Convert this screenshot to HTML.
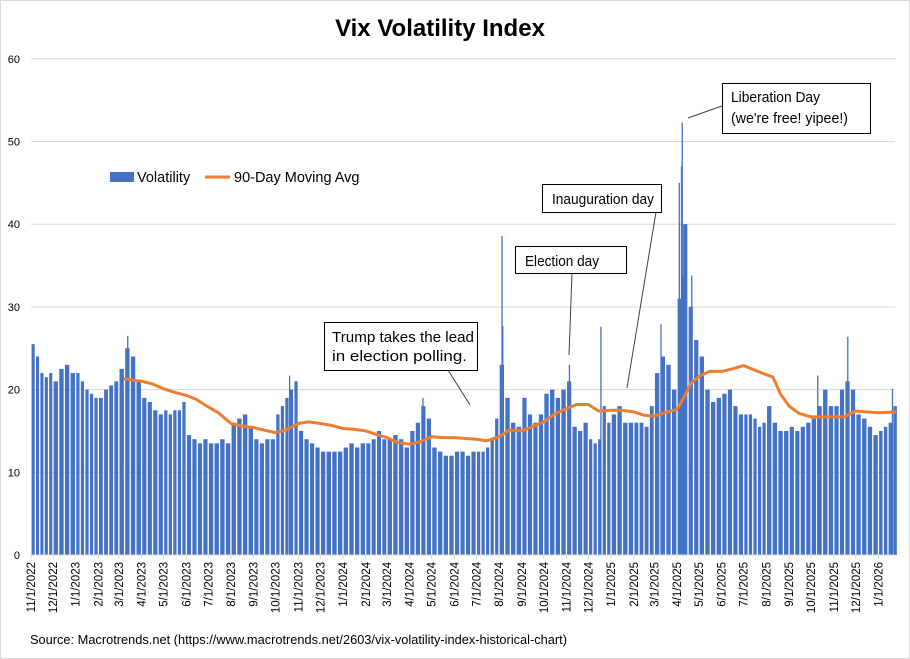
<!DOCTYPE html>
<html><head><meta charset="utf-8"><style>
body{margin:0;background:#fff;}
svg{display:block;font-family:"Liberation Sans",Calibri,sans-serif;}
</style></head><body>
<svg id="chart" width="910" height="659" viewBox="0 0 910 659">
<rect x="0.5" y="0.5" width="909" height="658" fill="#fff" stroke="#d9d9d9"/>
<text x="440" y="36" text-anchor="middle" font-size="24" font-weight="bold" fill="#000">Vix Volatility Index</text>
<g id="grid"></g>
<g id="yaxis"></g>
<g id="bars"></g>
<g id="ma"></g>
<g id="xaxis"></g>
<g>
<rect x="110" y="172" width="24" height="10" fill="#4472c4"/>
<text x="137" y="182" font-size="14.5" fill="#000">Volatility</text>
<line x1="205" y1="177" x2="230" y2="177" stroke="#ed7d31" stroke-width="3"/>
<text x="234" y="182" font-size="14.5" fill="#000">90-Day Moving Avg</text>
</g>
<g font-size="14.5" fill="#000">
<line x1="448" y1="370" x2="470" y2="405" stroke="#404040"/>
<rect x="324.5" y="322.5" width="153" height="48" fill="#fff" stroke="#000"/>
<text x="332" y="342" textLength="142" lengthAdjust="spacingAndGlyphs">Trump takes the lead</text>
<text x="332" y="361" textLength="135" lengthAdjust="spacingAndGlyphs">in election polling.</text>
<line x1="572" y1="273" x2="569" y2="355" stroke="#404040"/>
<rect x="515.5" y="246.5" width="111" height="27" fill="#fff" stroke="#000"/>
<text x="525" y="266" textLength="74" lengthAdjust="spacingAndGlyphs">Election day</text>
<line x1="656" y1="212" x2="627" y2="388" stroke="#404040"/>
<rect x="542.5" y="184.5" width="119" height="28" fill="#fff" stroke="#000"/>
<text x="552" y="204" textLength="102" lengthAdjust="spacingAndGlyphs">Inauguration day</text>
<line x1="722" y1="106" x2="688" y2="118" stroke="#404040"/>
<rect x="722.5" y="83.5" width="148" height="50" fill="#fff" stroke="#000"/>
<text x="731" y="102" textLength="89" lengthAdjust="spacingAndGlyphs">Liberation Day</text>
<text x="731" y="123" textLength="117" lengthAdjust="spacingAndGlyphs">(we're free! yipee!)</text>
</g>
<text x="30" y="644" font-size="12.5" fill="#000" textLength="537" lengthAdjust="spacingAndGlyphs">Source: Macrotrends.net (https://www.macrotrends.net/2603/vix-volatility-index-historical-chart)</text>
</svg>
<script>
// Month labels (start of each month), weekly values per month
const months = ["11/1/2022","12/1/2022","1/1/2023","2/1/2023","3/1/2023","4/1/2023","5/1/2023","6/1/2023","7/1/2023","8/1/2023","9/1/2023","10/1/2023","11/1/2023","12/1/2023","1/1/2024","2/1/2024","3/1/2024","4/1/2024","5/1/2024","6/1/2024","7/1/2024","8/1/2024","9/1/2024","10/1/2024","11/1/2024","12/1/2024","1/1/2025","2/1/2025","3/1/2025","4/1/2025","5/1/2025","6/1/2025","7/1/2025","8/1/2025","9/1/2025","10/1/2025","11/1/2025","12/1/2025","1/1/2026"];
const weeklyVol = [
[25.5,24,22,21.5,22],[21,22.5,23,22],[22,21,20,19.5,19],[19,20,20.5,21],[22.5,25,24,21],[19,18.5,17.5,17],
[17.5,17,17.5,17.5,18.5],[14.5,14,13.5,14],[13.5,13.5,14,13.5],[16,16.5,17,15.5],[14,13.5,14,14],[17,18,19,20,21],
[15,14,13.5,13],[12.5,12.5,12.5,12.5],[13,13.5,13,13.5],[13.5,14,15,14],[14,14.5,14,13],[15,16,18,16.5],
[13,12.5,12,12],[12.5,12.5,12,12.5],[12.5,12.5,13,14,16.5],[23,19,16,15.5],[19,17,16,17],[19.5,20,19,20],
[21,15.5,15,16],[14,13.5,14,18,16],[17,18,16,16],[16,16,15.5,18],[22,24,23,20],[31,40,30,26],
[24,20,18.5,19],[19.5,20,18,17],[17,17,16.5,15.5,16],[18,16,15,15],[15.5,15,15.5,16],[16.5,18,20,18],
[18,20,21,20],[17,16.5,15.5,14.5],[15,15.5,16,18]];
// Notable single-day spikes
const spikeDates = ["3/13/2023","10/20/2023","4/19/2024","8/5/2024","8/6/2024","11/5/2024","12/18/2024","3/10/2025","4/4/2025","4/7/2025","4/8/2025","4/9/2025","4/21/2025","10/10/2025","11/20/2025","1/20/2026"];
const spikeValues = [26.5,21.7,19.0,38.6,27.7,23.0,27.6,27.9,45.0,47.0,52.3,33.6,33.8,21.7,26.4,20.1];
// 90-day moving average points
const maDates = ["3/8/2023","4/1/2023","4/15/2023","5/1/2023","5/15/2023","6/1/2023","6/15/2023","7/1/2023","7/15/2023","8/1/2023","8/15/2023","9/1/2023","9/15/2023","10/1/2023","10/15/2023","11/1/2023","11/15/2023","12/1/2023","12/15/2023","1/1/2024","1/15/2024","2/1/2024","2/15/2024","3/1/2024","3/15/2024","4/1/2024","4/15/2024","5/1/2024","5/15/2024","6/1/2024","6/15/2024","7/1/2024","7/15/2024","8/1/2024","8/15/2024","9/1/2024","9/15/2024","10/1/2024","10/15/2024","11/1/2024","11/15/2024","12/1/2024","12/15/2024","1/1/2025","1/15/2025","2/1/2025","2/15/2025","3/1/2025","3/15/2025","4/1/2025","4/10/2025","4/20/2025","5/1/2025","5/15/2025","6/1/2025","6/15/2025","7/1/2025","7/15/2025","8/1/2025","8/10/2025","8/20/2025","9/1/2025","9/15/2025","10/1/2025","10/15/2025","11/1/2025","11/15/2025","12/1/2025","12/15/2025","1/1/2026","1/25/2026"];
const maValues = [21.3,21.0,20.7,20.1,19.7,19.3,18.8,17.9,17.2,15.9,15.6,15.4,15.1,14.8,15.1,15.9,16.1,15.9,15.7,15.3,15.2,15.0,14.6,14.2,13.6,13.4,13.7,14.3,14.2,14.2,14.1,14.0,13.8,14.3,15.1,15.0,15.5,16.1,17.0,17.7,18.2,18.2,17.4,17.5,17.5,17.3,16.9,16.8,17.2,17.6,19.0,20.8,21.6,22.2,22.2,22.5,22.9,22.4,21.8,21.5,19.5,18.0,17.1,16.7,16.7,16.7,16.7,17.4,17.3,17.2,17.3];
const yTicks = [0,10,20,30,40,50,60];

const NS="http://www.w3.org/2000/svg";
const X0=31, Y0=555, YS=8.27, PXDAY=0.7325, PLOT_R=895;
function dt(s){const p=s.split("/");return Date.UTC(+p[2],+p[0]-1,+p[1]);}
const T0=dt("11/1/2022");
function xs(s){return X0+(dt(s)-T0)/86400000*PXDAY;}
function xt(t){return X0+(t-T0)/86400000*PXDAY;}
function ys(v){return Y0-v*YS;}
function mk(tag,attrs,parent){const e=document.createElementNS(NS,tag);for(const k in attrs)e.setAttribute(k,attrs[k]);parent.appendChild(e);return e;}

const grid=document.getElementById("grid"), yax=document.getElementById("yaxis");
yTicks.forEach(v=>{
  if(v>0){const l=mk("line",{x1:X0,x2:PLOT_R,y1:ys(v),y2:ys(v),stroke:"#d9d9d9"},grid);
  
  }
  const t=mk("text",{x:20,y:ys(v)+4,"text-anchor":"end","font-size":"11",fill:"#000"},yax);
  t.textContent=v;
  
  
});

const bars=document.getElementById("bars");
months.forEach((m,i)=>{
  const a=dt(m);
  const p=m.split("/");const b=(i+1<months.length)?dt(months[i+1]):Date.UTC(+p[2],+p[0],+p[1]-5);
  const vals=weeklyVol[i];const n=vals.length;const span=(b-a)/n;
  vals.forEach((v,j)=>{
    const x1=xt(a+span*j), x2=xt(a+span*(j+1));
    const r=mk("rect",{x:x1+0.6,y:ys(v),width:Math.max(0.5,x2-x1-1.3),height:v*YS,fill:"#4472c4"},bars);
    
    
  });
});
spikeDates.forEach((d,i)=>{
  const v=spikeValues[i];
  const r=mk("rect",{x:xs(d)-0.6,y:ys(v),width:1.3,height:v*YS,fill:"#4472c4"},bars);
  
  
});

const ma=document.getElementById("ma");
const pts=maDates.map((d,i)=>xs(d).toFixed(1)+","+ys(maValues[i]).toFixed(1)).join(" ");
const pl=mk("polyline",{points:pts,fill:"none",stroke:"#ed7d31","stroke-width":"3","stroke-linejoin":"round"},ma);



const xax=document.getElementById("xaxis");
const al=mk("line",{x1:X0,x2:PLOT_R,y1:Y0,y2:Y0,stroke:"#d9d9d9"},xax);


months.forEach(m=>{
  const x=xs(m);
  const tk=mk("line",{x1:x,x2:x,y1:Y0,y2:Y0+4,stroke:"#d9d9d9"},xax);
  
  
  const t=mk("text",{x:0,y:0,"text-anchor":"end","font-size":"11.5",fill:"#000",transform:"translate("+(x+4)+","+(Y0+7)+") rotate(-90)"},xax);
  t.textContent=m;
  
  
});
</script>
</body></html>
